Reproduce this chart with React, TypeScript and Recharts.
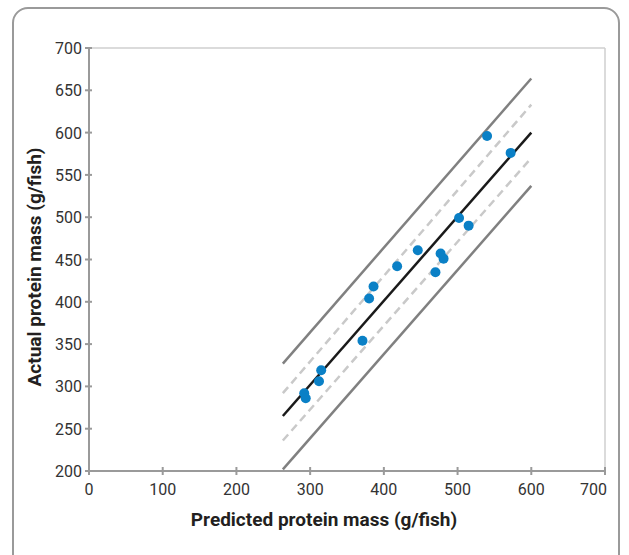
import { ReferenceLine, Scatter, ScatterChart, XAxis, YAxis } from "recharts";

const predicted = [540, 572, 502, 515, 446, 418, 477, 481, 470, 386, 380, 371, 315, 312, 292, 294];
const actual = [596, 576, 499, 490, 461, 442, 457, 451, 435, 418, 404, 354, 319, 306, 292, 286];

const lineX = [263, 600];
const fitLine = [265, 600];
const upperPrediction = [327, 664];
const lowerPrediction = [202, 537];
const upperConfidence = [292, 633];
const lowerConfidence = [236, 570];

const xTicks = [0, 100, 200, 300, 400, 500, 600, 700];
const yTicks = [200, 250, 300, 350, 400, 450, 500, 550, 600, 650, 700];

const points = predicted.map((x, i) => ({ x, y: actual[i] }));
const toLine = (ys: number[]) => lineX.map((x, i) => ({ x, y: ys[i] }));

const font = "Roboto, 'DejaVu Sans', sans-serif";
const axisGray = "#9a9a9a";

const NoDot = () => null;

function XTick(props: any) {
  const { x, y, payload } = props;
  const last = payload.value === 700;
  return (
    <g>
      <line x1={x} x2={x} y1={y - 4} y2={y + 4} stroke={axisGray} strokeWidth={2} />
      <text
        x={last ? x + 2 : x}
        y={y + 24}
        textAnchor={last ? "end" : "middle"}
        fontSize={16}
        fontFamily={font}
        fill="#333"
      >
        {payload.value}
      </text>
    </g>
  );
}

function YTick(props: any) {
  const { x, y, payload } = props;
  return (
    <g>
      <line x1={x - 4} x2={x + 3} y1={y} y2={y} stroke={axisGray} strokeWidth={2} />
      <text x={x - 7} y={y + 6} textAnchor="end" fontSize={16} fontFamily={font} fill="#333">
        {payload.value}
      </text>
    </g>
  );
}

export default function App() {
  return (
    <div style={{ position: "absolute", left: 0, top: 0, width: 629, height: 555, overflow: "hidden", background: "#fff" }}>
      <div
        style={{
          position: "absolute",
          left: 12,
          top: 7,
          width: 604,
          height: 570,
          border: "2px solid #9a9a9a",
          borderRadius: 16
        }}
      />
      <ScatterChart
        width={629}
        height={555}
        margin={{ top: 48, right: 24, left: 29, bottom: 54 }}
        style={{ position: "absolute", left: 0, top: 0 }}
      >
        <XAxis
          type="number"
          dataKey="x"
          domain={[0, 700]}
          ticks={xTicks}
          height={30}
          tickSize={0}
          tickMargin={0}
          tick={<XTick />}
          axisLine={{ stroke: axisGray, strokeWidth: 2 }}
          tickLine={false}
          interval={0}
        />
        <YAxis
          type="number"
          dataKey="y"
          domain={[200, 700]}
          ticks={yTicks}
          width={60}
          tickSize={0}
          tickMargin={0}
          tick={<YTick />}
          axisLine={{ stroke: axisGray, strokeWidth: 2 }}
          tickLine={false}
          interval={0}
        />
        <ReferenceLine y={700} stroke="#cfcfcf" strokeWidth={1.5} />
        <ReferenceLine x={700} stroke="#cfcfcf" strokeWidth={1.5} />
        <Scatter data={toLine(upperPrediction)} line={{ stroke: "#808080", strokeWidth: 2.5 }} shape={NoDot} isAnimationActive={false} />
        <Scatter data={toLine(lowerPrediction)} line={{ stroke: "#808080", strokeWidth: 2.5 }} shape={NoDot} isAnimationActive={false} />
        <Scatter
          data={toLine(upperConfidence)}
          line={{ stroke: "#c9c9c9", strokeWidth: 2.5, strokeDasharray: "8 5" }}
          shape={NoDot}
          isAnimationActive={false}
        />
        <Scatter
          data={toLine(lowerConfidence)}
          line={{ stroke: "#c9c9c9", strokeWidth: 2.5, strokeDasharray: "8 5" }}
          shape={NoDot}
          isAnimationActive={false}
        />
        <Scatter data={toLine(fitLine)} line={{ stroke: "#1a1a1a", strokeWidth: 2.5 }} shape={NoDot} isAnimationActive={false} />
        <Scatter
          data={points}
          shape={(p: any) => <circle cx={p.cx} cy={p.cy} r={5} fill="#0a80c6" />}
          isAnimationActive={false}
        />
      </ScatterChart>
      <div
        style={{
          position: "absolute",
          left: 324,
          top: 508,
          transform: "translateX(-50%)",
          whiteSpace: "nowrap",
          fontFamily: font,
          fontWeight: 700,
          fontSize: 19,
          color: "#231f20"
        }}
      >
        Predicted protein mass (g/fish)
      </div>
      <div
        style={{
          position: "absolute",
          left: 34,
          top: 267,
          transform: "translate(-50%, -50%) rotate(-90deg)",
          whiteSpace: "nowrap",
          fontFamily: font,
          fontWeight: 700,
          fontSize: 19,
          color: "#231f20"
        }}
      >
        Actual protein mass (g/fish)
      </div>
    </div>
  );
}
